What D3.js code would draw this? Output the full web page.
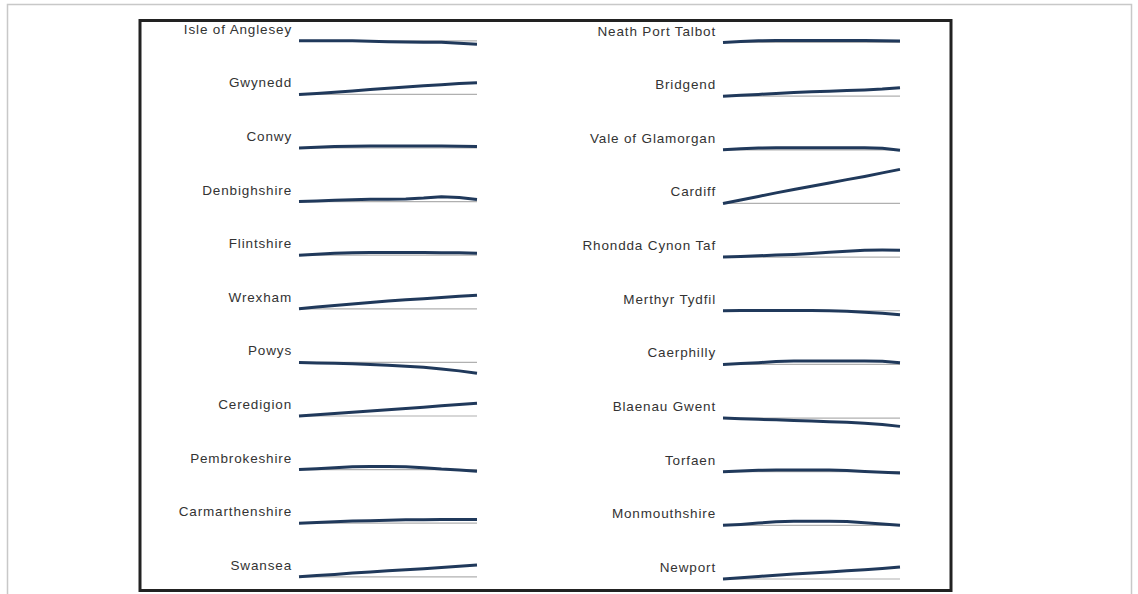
<!DOCTYPE html>
<html>
<head>
<meta charset="utf-8">
<script src="https://cdn.jsdelivr.net/npm/d3@7"></script>
<style>
html,body{margin:0;padding:0;background:#fff;}
svg{display:block;}
</style>
</head>
<body>
<svg id="chart" width="1138" height="594"></svg>
<script>
// Years (x axis, not labelled in the chart)
const years = [2018, 2020, 2022, 2024, 2026, 2028, 2030, 2032, 2034, 2036, 2038];

// Left column authorities and % change from first year
const leftNames = ["Isle of Anglesey","Gwynedd","Conwy","Denbighshire","Flintshire","Wrexham","Powys","Ceredigion","Pembrokeshire","Carmarthenshire","Swansea"];
const angleseyVals   = [0,0,0,0,-0.3,-0.6,-0.8,-0.9,-0.9,-1.6,-2.2];
const gwyneddVals    = [0,0.6,1.4,2.2,3.0,3.8,4.6,5.4,6.1,6.8,7.3];
const conwyVals      = [0,0.5,0.9,1.1,1.2,1.2,1.2,1.2,1.2,1.1,0.9];
const denbighVals    = [0,0.4,0.8,1.1,1.4,1.5,1.6,2.2,3.1,2.5,1.3];
const flintVals      = [0,0.6,1.2,1.6,1.7,1.7,1.7,1.7,1.6,1.5,1.2];
const wrexhamVals    = [0,1.1,2.1,3.0,3.9,4.8,5.6,6.3,7.1,7.8,8.5];
const powysVals      = [0,-0.3,-0.5,-0.8,-1.3,-1.8,-2.4,-3.1,-4.1,-5.3,-6.8];
const ceredigionVals = [0,0.8,1.5,2.3,3.1,3.9,4.7,5.5,6.4,7.2,7.9];
const pembrokeVals   = [0,0.6,1.2,1.8,1.9,1.9,1.8,1.2,0.3,-0.3,-1.0];
const carmarthenVals = [0,0.4,0.9,1.3,1.6,1.9,2.1,2.2,2.3,2.3,2.3];
const swanseaVals    = [0,0.8,1.5,2.3,3.0,3.8,4.4,5.1,5.8,6.6,7.3];

// Right column authorities
const rightNames = ["Neath Port Talbot","Bridgend","Vale of Glamorgan","Cardiff","Rhondda Cynon Taf","Merthyr Tydfil","Caerphilly","Blaenau Gwent","Torfaen","Monmouthshire","Newport"];
const nptVals        = [0,0.6,1.1,1.3,1.3,1.3,1.3,1.3,1.3,1.1,0.9];
const bridgendVals   = [0,0.6,1.1,1.7,2.3,2.7,3.1,3.6,3.9,4.4,5.3];
const valeVals       = [0,0.6,1.1,1.3,1.3,1.3,1.3,1.3,1.3,0.9,-0.3];
const cardiffVals    = [0,2.2,4.4,6.6,8.7,10.8,12.8,14.9,16.9,19.1,21.3];
const rctVals        = [0,0.4,0.8,1.3,1.7,2.3,3.1,3.6,4.3,4.4,4.3];
const merthyrVals    = [0,0.1,0.2,0.2,0.2,0.1,0,-0.3,-0.9,-1.6,-2.5];
const caerphillyVals = [0,0.5,1.1,1.8,2.1,2.1,2.1,2.1,2.1,1.9,1.1];
const blaenauVals    = [0,-0.4,-0.8,-1.1,-1.5,-1.9,-2.3,-2.7,-3.3,-4.1,-5.2];
const torfaenVals    = [0,0.5,0.9,1.1,1.1,1.1,1.0,0.8,0.2,-0.3,-0.8];
const monmouthVals   = [0,0.6,1.4,2.2,2.5,2.5,2.5,2.4,1.6,0.8,0];
const newportVals    = [0,0.8,1.6,2.4,3.1,3.8,4.4,5.1,5.8,6.6,7.5];

const leftSeries = [angleseyVals,gwyneddVals,conwyVals,denbighVals,flintVals,wrexhamVals,powysVals,ceredigionVals,pembrokeVals,carmarthenVals,swanseaVals];
const rightSeries = [nptVals,bridgendVals,valeVals,cardiffVals,rctVals,merthyrVals,caerphillyVals,blaenauVals,torfaenVals,monmouthVals,newportVals];

const svg = d3.select("#chart");

// outer light frame
svg.append("rect").attr("x",7.5).attr("y",4.5).attr("width",1124).attr("height",600)
  .attr("fill","#fff").attr("stroke","#c8c8c8").attr("stroke-width",1.5);

// chart frame
svg.append("rect").attr("x",140).attr("y",20.5).attr("width",811).attr("height",570)
  .attr("fill","#fff").attr("stroke","#222").attr("stroke-width",3);

const y = d3.scaleLinear().domain([0, 25]).range([0, -40]);

const columns = [
  {names:leftNames, series:leftSeries, x0:299, x1:477, labelX:292, top:40.8, bottom:576.8},
  {names:rightNames, series:rightSeries, x0:723, x1:900, labelX:716, top:42.5, bottom:579}
];

columns.forEach(col => {
  const x = d3.scaleLinear().domain(d3.extent(years)).range([col.x0, col.x1]);
  const row = d3.scalePoint().domain(col.names).range([col.top, col.bottom]);
  const line = d3.line().x((d,i) => x(years[i])).y(d => y(d)).curve(d3.curveLinear);

  const g = svg.append("g").selectAll("g").data(col.names).join("g")
    .attr("transform", d => `translate(0,${row(d)})`);

  g.append("line")
    .attr("x1", x(years[0])).attr("x2", x(years[years.length-1]))
    .attr("y1", y(0)).attr("y2", y(0))
    .attr("stroke","#b0b0b0").attr("stroke-width",1.2);

  g.append("path")
    .attr("d", (d,i) => line(col.series[i]))
    .attr("fill","none").attr("stroke","#20395b").attr("stroke-width",3)
    .attr("stroke-linejoin","round").attr("stroke-linecap","butt");

  g.append("text")
    .attr("x", col.labelX).attr("y", -7)
    .attr("text-anchor","end")
    .attr("font-family","Liberation Sans, Arial, sans-serif")
    .attr("font-size",13.5)
    .attr("letter-spacing","0.85px")
    .attr("fill","#333")
    .text(d => d);
});
</script>
</body>
</html>
